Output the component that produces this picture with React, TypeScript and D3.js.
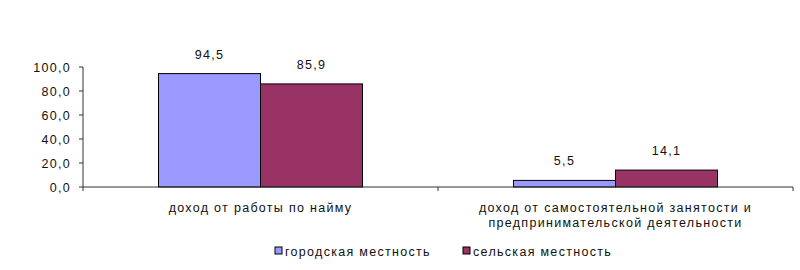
import React from "react";
import * as d3 from "d3";

const categories = [
  ["доход от работы по найму"],
  ["доход от самостоятельной занятости и", "предпринимательской деятельности"],
];
const seriesNames = ["городская местность", "сельская местность"];
const urban = [94.5, 5.5];
const rural = [85.9, 14.1];
const yTicks = [0, 20, 40, 60, 80, 100];
const colors = ["#9999FF", "#993366"];

const W = 800;
const H = 270;
const left = 83;
const right = 793;
const top = 67;
const bottom = 187;
const font = "'Liberation Sans', Arial, sans-serif";

export default function App() {
  const x = d3.scaleBand<number>().domain([0, 1]).range([left, right]);
  const y = d3.scaleLinear().domain([0, 100]).range([bottom, top]);
  const barW = 102;
  const series = [urban, rural];
  const fmt = (v: number) => v.toFixed(1).replace(".", ",");

  return (
    <svg width={W} height={H} style={{ position: "absolute", left: 0, top: 0, background: "#fff" }}>
      <g fontFamily={font} fontSize={12.5} fill="#111" letterSpacing={1.3}>
        {/* y axis */}
        <line x1={left} x2={left} y1={y(100)} y2={bottom} stroke="#333" />
        {yTicks.map((t) => (
          <g key={t}>
            <line x1={left - 4} x2={left} y1={y(t)} y2={y(t)} stroke="#333" />
            <text x={left - 12} y={y(t) + 4.5} textAnchor="end">
              {fmt(t)}
            </text>
          </g>
        ))}
        {/* bars */}
        {series.map((vals, s) =>
          vals.map((v, i) => {
            const cx = x(i)! + x.bandwidth() / 2;
            const bx = cx - barW + s * barW;
            return (
              <g key={`${s}-${i}`}>
                <rect
                  x={bx}
                  y={y(v)}
                  width={barW}
                  height={bottom - y(v)}
                  fill={colors[s]}
                  stroke="#000"
                  strokeWidth={1}
                />
                <text x={bx + barW / 2} y={y(v) - 15} textAnchor="middle">
                  {fmt(v)}
                </text>
              </g>
            );
          })
        )}
        {/* x axis */}
        <line x1={left} x2={right} y1={bottom} y2={bottom} stroke="#333" />
        {[0, 1, 2].map((i) => {
          const xx = left + i * x.bandwidth();
          return <line key={i} x1={xx} x2={xx} y1={bottom} y2={bottom + 4} stroke="#333" />;
        })}
        {categories.map((lines, i) => (
          <text key={i} textAnchor="middle">
            {lines.map((l, j) => (
              <tspan key={j} x={x(i)! + x.bandwidth() / 2} y={212 + j * 15}>
                {l}
              </tspan>
            ))}
          </text>
        ))}
        {/* legend */}
        {seriesNames.map((n, s) => {
          const lx = [275, 463][s];
          return (
            <g key={n}>
              <rect x={lx} y={247} width={7} height={7} fill={colors[s]} stroke="#000" />
              <text x={lx + 10} y={256}>
                {n}
              </text>
            </g>
          );
        })}
      </g>
    </svg>
  );
}
